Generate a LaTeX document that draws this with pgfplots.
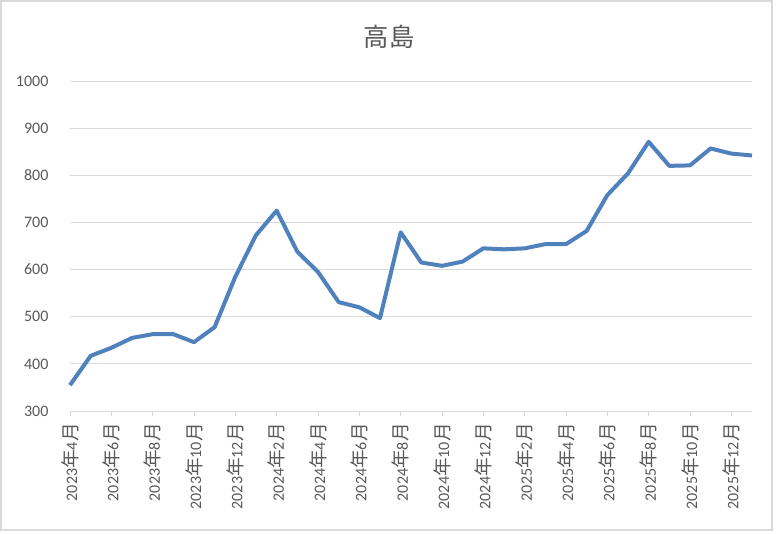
\documentclass[border=0pt]{standalone}
\usepackage{pgfplots}
\pgfplotsset{compat=1.18}
\usepackage{fontspec}
\setmainfont{Carlito}
\newfontfamily\cjk{Noto Sans CJK JP}
\definecolor{txtc}{HTML}{595959}
\definecolor{gridc}{HTML}{D9D9D9}
\definecolor{linec}{HTML}{4F81BD}
\newcommand{\ym}[2]{#1{\cjk\fontsize{14}{14}\selectfont 年}#2{\cjk\fontsize{14}{14}\selectfont 月}}

\pgfplotstableread{
i v
0 355
1 417
2 434
3 455
4 463
5 463
6 446
7 478
8 585
9 673
10 725
11 638
12 595
13 531
14 520
15 497
16 679
17 615
18 608
19 617
20 645
21 643
22 645
23 654
24 654
25 682
26 758
27 804
28 871
29 820
30 821
31 857
32 846
33 842
}\takashima

\begin{document}
% 1 px of the reference = 0.75pt, y measured from the bottom
\begin{tikzpicture}
\useasboundingbox (0pt,0pt) rectangle (582.75pt,399.75pt);
\fill[white] (0pt,0pt) rectangle (582.75pt,399.75pt);
\draw[gridc,line width=1.5pt] (0.75pt,2.25pt) rectangle (579pt,399pt);
\node[txtc,font=\cjk\fontsize{19}{22}\selectfont] at (291.75pt,372pt) {高島};
\begin{axis}[
    at={(52.5pt,91.5pt)}, anchor=south west,
    scale only axis,
    width=511.5pt, height=247.5pt,
    xmin=0, xmax=33,
    ymin=300, ymax=1000,
    ytick={300,400,...,1000},
    xtick={0,2,...,32},
    xticklabels={\ym{2023}{4},\ym{2023}{6},\ym{2023}{8},\ym{2023}{10},\ym{2023}{12},
        \ym{2024}{2},\ym{2024}{4},\ym{2024}{6},\ym{2024}{8},\ym{2024}{10},\ym{2024}{12},
        \ym{2025}{2},\ym{2025}{4},\ym{2025}{6},\ym{2025}{8},\ym{2025}{10},\ym{2025}{12}},
    x tick label style={rotate=90, anchor=east, font=\fontsize{12}{14}\selectfont, text=txtc, inner sep=0pt},
    y tick label style={font=\fontsize{12}{14}\selectfont, text=txtc, anchor=east, inner sep=0pt},
    /pgf/number format/assume math mode=true,
    /pgf/number format/1000 sep={},
    yticklabel shift=12pt,
    xticklabel shift=5pt,
    axis x line*=bottom,
    axis y line*=left,
    y axis line style={draw=none},
    x axis line style={gridc, line width=0.75pt, -},
    xtick style={gridc, line width=0.75pt},
    ytick style={draw=none},
    tick align=outside,
    major tick length=4pt,
    ymajorgrids=true,
    grid style={gridc, line width=0.75pt},
    clip=false,
]
\addplot[linec, line width=3pt, line join=round] table[x=i, y=v] {\takashima};
\end{axis}
\end{tikzpicture}
\end{document}
